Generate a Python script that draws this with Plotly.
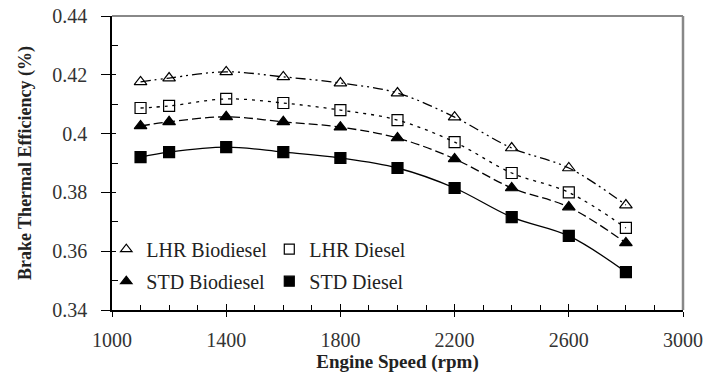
import plotly.graph_objects as go

speed = [1100, 1200, 1400, 1600, 1800, 2000, 2200, 2400, 2600, 2800]
lhr_biodiesel = [0.4176, 0.4189, 0.4210, 0.4193, 0.4172, 0.4138, 0.4056, 0.3951, 0.3883, 0.3757]
lhr_diesel = [0.4087, 0.4094, 0.4118, 0.4104, 0.4080, 0.4046, 0.3971, 0.3866, 0.3800, 0.3679]
std_biodiesel = [0.4026, 0.4040, 0.4057, 0.4040, 0.4022, 0.3985, 0.3914, 0.3815, 0.3750, 0.3628]
std_diesel = [0.3920, 0.3937, 0.3954, 0.3937, 0.3917, 0.3883, 0.3815, 0.3716, 0.3652, 0.3529]

series = [
    ("LHR Biodiesel", lhr_biodiesel, "triangle-up-open", "10px,4px,2px,4px,2px,4px", "legend"),
    ("LHR Diesel", lhr_diesel, "square-open", "3px,5px", "legend"),
    ("STD Biodiesel", std_biodiesel, "triangle-up", "9px,4px", "legend2"),
    ("STD Diesel", std_diesel, "square", "solid", "legend2"),
]

FONT = "Liberation Serif, Times New Roman, serif"
fig = go.Figure()
for name, vals, sym, dash, leg in series:
    fig.add_trace(go.Scatter(
        x=speed, y=vals, mode="lines+markers", name=name, showlegend=False,
        line=dict(color="black", width=1.3, dash=dash, shape="spline", smoothing=1.0),
        marker=dict(symbol=sym, size=11, color="black", line=dict(color="black", width=1.2)),
    ))
    fig.add_trace(go.Scatter(
        x=[None], y=[None], mode="markers", name=name, legend=leg,
        marker=dict(symbol=sym, size=10, color="black", line=dict(color="black", width=1.2)),
    ))

common_axis = dict(showgrid=False, zeroline=False, linecolor="black", automargin=False)
legend_common = dict(orientation="h", x=-0.01, xanchor="left", yanchor="middle",
                     entrywidth=118, font=dict(size=20, family=FONT, color="#222"),
                     bgcolor="rgba(0,0,0,0)", itemwidth=30)
fig.update_layout(
    width=717, height=381,
    margin=dict(l=112, r=34, t=16, b=71),
    paper_bgcolor="white", plot_bgcolor="white",
    font=dict(family=FONT, color="#222"),
    xaxis=dict(range=[1000, 3000], dtick=400, tick0=1000, ticks="outside", ticklen=5,
               tickcolor="black", tickfont=dict(size=20, color="#333"), showline=True, linewidth=2,
               ticklabelstandoff=6,
               minor=dict(dtick=100, ticks="outside", ticklen=0, tickcolor="black"),
               title=dict(text="<b>Engine Speed (rpm)</b>", font=dict(size=19, color="#222"), standoff=5),
               **common_axis),
    yaxis=dict(range=[0.34, 0.44], dtick=0.02, tick0=0.34, ticks="outside", ticklen=9,
               tickcolor="black", tickfont=dict(size=20, color="#333"), showline=True, linewidth=1.5,
               ticklabelstandoff=10,
               tickformat="~g",
               title=dict(text="<b>Brake Thermal Efficiency (%)</b>", font=dict(size=18, color="#222"), standoff=16),
               **common_axis),
    xaxis2=dict(range=[1000, 3000], overlaying="x", anchor="y2", dtick=400, tick0=1000,
                ticks="inside", ticklen=6, tickcolor="black", showticklabels=False,
                minor=dict(dtick=100, ticks="inside", ticklen=5, tickcolor="black"),
                **common_axis),
    yaxis2=dict(range=[0.34, 0.44], overlaying="y", anchor="x2", dtick=0.02, tick0=0.34,
                ticks="inside", ticklen=4, tickcolor="black", showticklabels=False,
                minor=dict(dtick=0.01, ticks="inside", ticklen=6, tickcolor="black"),
                **common_axis),
    legend=dict(y=0.207, **legend_common),
    legend2=dict(y=0.098, **legend_common),
    shapes=[
        dict(type="line", xref="paper", yref="paper", x0=0, x1=1, y0=1, y1=1,
             line=dict(color="#888", width=2)),
        dict(type="line", xref="paper", yref="paper", x0=1, x1=1, y0=0, y1=1,
             line=dict(color="#888", width=2.5)),
    ],
)
fig.add_trace(go.Scatter(x=[None], y=[None], xaxis="x2", yaxis="y2", showlegend=False, hoverinfo="skip"))
fig.write_html("out.html")
